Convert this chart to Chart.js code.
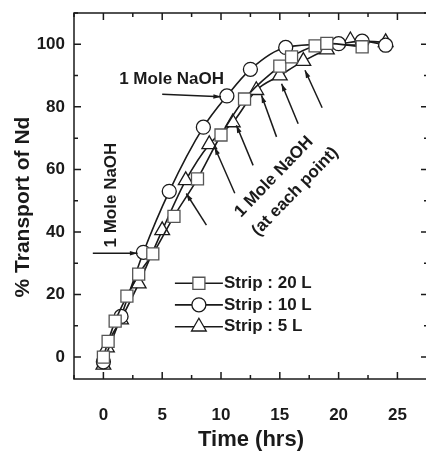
<!DOCTYPE html>
<html>
<head>
<meta charset="utf-8">
<script src="https://cdn.jsdelivr.net/npm/chart.js@4.4.0/dist/chart.umd.min.js"></script>
<style>
html, body { margin: 0; padding: 0; overflow: hidden; background: #fff; }
</style>
</head>
<body>
<canvas id="myChart" width="434" height="453"></canvas>
<script>
// values (time in hrs, % transport)
const strip20X = [0, 0.4, 1, 2, 3, 4.2, 6, 8, 10, 12, 15, 16, 18, 19, 22];
const strip20Y = [0, 5, 11.5, 19.5, 26.5, 33, 45, 57, 71, 82.5, 93, 96, 99.5, 100.3, 99.2];
const strip10X = [0, 1.5, 3.4, 5.6, 8.5, 10.5, 12.5, 15.5, 20, 22, 24];
const strip10Y = [-1.5, 13, 33.5, 53, 73.5, 83.5, 92, 99, 100.2, 101, 99.7];
const strip5X = [0, 0.3, 1.5, 3, 5, 7, 9, 11, 13, 15, 17, 19, 21, 24];
const strip5Y = [-2.5, 3, 12, 23.5, 40.5, 56.5, 68, 75, 85.3, 90, 94.6, 98.3, 101.2, 100.6];
const seriesLabels = ['Strip : 20 L', 'Strip : 10 L', 'Strip : 5 L'];
const xTicks = [0, 5, 10, 15, 20, 25];
const yTicks = [0, 20, 40, 60, 80, 100];

const FONT = "'Liberation Sans', Arial, sans-serif";
const INK = '#1a1a1a';

function pts(xs, ys) { return xs.map((x, i) => ({x: x, y: ys[i]})); }

// annotation positions, in data units
const arrows = [
  [5.0, 84, 10.0, 83.2],
  [-0.9, 33.2, 2.9, 33.2],
  [8.76, 42.2, 7.05, 52.3],
  [11.17, 52.4, 9.46, 67.1],
  [12.73, 61.3, 11.31, 74.1],
  [14.72, 70.4, 13.44, 83.7],
  [16.56, 74.6, 15.15, 87.4],
  [18.6, 79.7, 17.14, 91.7]
];
const notes = [
  ['1 Mole NaOH', 5.8, 88.8, 0],
  ['1 Mole NaOH', 0.7, 51.8, -90],
  ['1 Mole NaOH', 14.5, 57.6, -46],
  ['(at each point)', 16.3, 52.9, -46]
];

function drawArrow(ctx, x1, y1, x2, y2) {
  ctx.beginPath(); ctx.moveTo(x1, y1); ctx.lineTo(x2, y2); ctx.stroke();
  const a = Math.atan2(y2 - y1, x2 - x1), h = 8;
  ctx.beginPath();
  ctx.moveTo(x2, y2);
  ctx.lineTo(x2 - h * Math.cos(a - 0.3), y2 - h * Math.sin(a - 0.3));
  ctx.lineTo(x2 - h * Math.cos(a + 0.3), y2 - h * Math.sin(a + 0.3));
  ctx.closePath(); ctx.fill();
}

function drawMarker(ctx, style, r, x, y, color) {
  ctx.save();
  ctx.fillStyle = '#fff'; ctx.strokeStyle = color; ctx.lineWidth = 1.3;
  ctx.beginPath();
  if (style == 'rect') {
    const s = r * Math.SQRT1_2;
    ctx.rect(x - s, y - s, 2 * s, 2 * s);
  } else if (style == 'circle') {
    ctx.arc(x, y, r, 0, Math.PI * 2);
  } else {
    ctx.moveTo(x, y - r);
    ctx.lineTo(x + r * Math.sin(Math.PI * 2 / 3), y - r * Math.cos(Math.PI * 2 / 3));
    ctx.lineTo(x + r * Math.sin(Math.PI * 4 / 3), y - r * Math.cos(Math.PI * 4 / 3));
    ctx.closePath();
  }
  ctx.fill(); ctx.stroke();
  ctx.restore();
}

const extras = {
  id: 'extras',
  afterDatasetsDraw(chart) {
    const ctx = chart.ctx, a = chart.chartArea;
    const sx = chart.scales.x, sy = chart.scales.y;
    ctx.save();
    ctx.strokeStyle = INK; ctx.fillStyle = INK; ctx.lineWidth = 1.5;

    // frame with inward ticks on all sides
    ctx.strokeRect(a.left, a.top, a.right - a.left, a.bottom - a.top);
    ctx.beginPath();
    for (let v = -2.5; v <= 27.5; v += 2.5) {
      const p = sx.getPixelForValue(v), len = (v % 5 == 0) ? 7 : 4;
      ctx.moveTo(p, a.bottom); ctx.lineTo(p, a.bottom - len);
      ctx.moveTo(p, a.top); ctx.lineTo(p, a.top + len);
    }
    for (let v = 0; v <= 110; v += 10) {
      const p = sy.getPixelForValue(v), len = (v % 20 == 0) ? 7 : 4;
      ctx.moveTo(a.left, p); ctx.lineTo(a.left + len, p);
      ctx.moveTo(a.right, p); ctx.lineTo(a.right - len, p);
    }
    ctx.stroke();

    // arrows
    ctx.lineWidth = 1.5;
    arrows.forEach(r => drawArrow(ctx, sx.getPixelForValue(r[0]), sy.getPixelForValue(r[1]),
      sx.getPixelForValue(r[2]), sy.getPixelForValue(r[3])));

    // notes
    ctx.font = 'bold 17px ' + FONT;
    ctx.textAlign = 'center'; ctx.textBaseline = 'middle';
    notes.forEach(n => {
      ctx.save();
      ctx.translate(sx.getPixelForValue(n[1]), sy.getPixelForValue(n[2]));
      ctx.rotate(n[3] * Math.PI / 180);
      ctx.fillText(n[0], 0, 0);
      ctx.restore();
    });

    // legend
    const rows = [23.6, 16.7, 9.7];
    chart.data.datasets.forEach((ds, i) => {
      const y = sy.getPixelForValue(rows[i]);
      const x1 = sx.getPixelForValue(6.08), x2 = sx.getPixelForValue(10.16);
      ctx.lineWidth = 1.6;
      ctx.beginPath(); ctx.moveTo(x1, y); ctx.lineTo(x2, y); ctx.stroke();
      drawMarker(ctx, ds.pointStyle, ds.pointRadius, (x1 + x2) / 2, y, ds.pointBorderColor);
      ctx.textAlign = 'left';
      ctx.fillText(ds.label, x2 + 1, y);
    });

    // y axis title
    ctx.save();
    ctx.font = 'bold 21px ' + FONT;
    ctx.textAlign = 'center';
    ctx.translate(23, 207);
    ctx.rotate(-Math.PI / 2);
    ctx.fillText('% Transport of Nd', 0, 0);
    ctx.restore();

    ctx.restore();
  }
};

const common = {
  showLine: true,
  fill: false,
  borderColor: INK,
  borderWidth: 1.6,
  pointBackgroundColor: '#fff',
  pointBorderWidth: 1.3,
  cubicInterpolationMode: 'monotone'
};

var ctx = document.getElementById('myChart').getContext('2d');
var chart = new Chart(ctx, {
  type: 'scatter',
  data: {
    datasets: [
      Object.assign({}, common, {label: seriesLabels[0], data: pts(strip20X, strip20Y),
        pointStyle: 'rect', pointRadius: 8.5, pointBorderColor: '#555'}),
      Object.assign({}, common, {label: seriesLabels[1], data: pts(strip10X, strip10Y),
        pointStyle: 'circle', pointRadius: 7, pointBorderColor: INK}),
      Object.assign({}, common, {label: seriesLabels[2], data: pts(strip5X, strip5Y),
        pointStyle: 'triangle', pointRadius: 8.5, pointBorderColor: INK})
    ]
  },
  options: {
    responsive: false,
    animation: false,
    layout: {autoPadding: false, padding: {top: 13, right: 6, bottom: 0, left: 0}},
    plugins: {legend: {display: false}, tooltip: {enabled: false}},
    scales: {
      x: {
        type: 'linear', min: -2.5, max: 27.6,
        afterBuildTicks: s => { s.ticks = xTicks.map(v => ({value: v})); },
        afterFit: s => { s.height = 74; s.paddingLeft = 0; s.paddingRight = 0; },
        grid: {display: false, drawTicks: false, tickLength: 0},
        border: {display: false},
        ticks: {color: INK, padding: 26, font: {family: FONT, size: 17, weight: 'bold'}},
        title: {display: true, text: 'Time (hrs)', color: INK, padding: 0,
          font: {family: FONT, size: 22, weight: 'bold'}}
      },
      y: {
        type: 'linear', min: -7, max: 110,
        afterBuildTicks: s => { s.ticks = yTicks.map(v => ({value: v})); },
        afterFit: s => { s.width = 74; s.paddingTop = 0; s.paddingBottom = 0; },
        grid: {display: false, drawTicks: false, tickLength: 0},
        border: {display: false},
        ticks: {color: INK, padding: 9, font: {family: FONT, size: 17, weight: 'bold'}}
      }
    }
  },
  plugins: [extras]
});
</script>
</body>
</html>
